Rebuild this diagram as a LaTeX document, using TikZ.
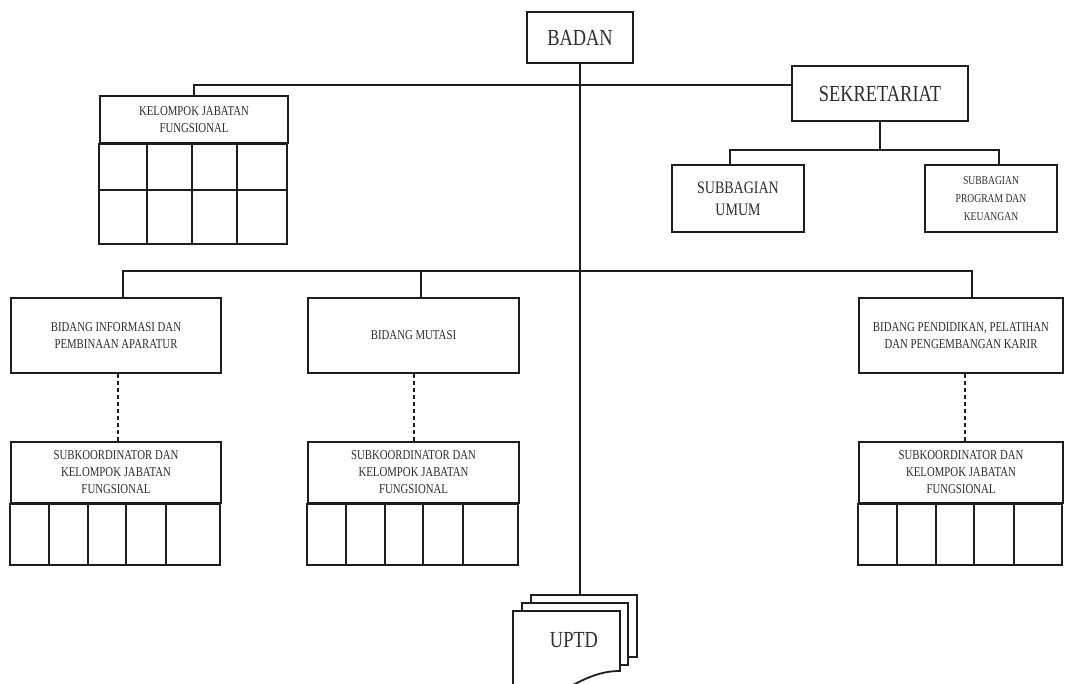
\documentclass[tikz,border=0pt]{standalone}
\usepackage{fontspec}
\setmainfont[FakeStretch=0.8]{Liberation Serif}
\definecolor{ink}{RGB}{30,30,30}
\definecolor{txt}{RGB}{45,45,50}
\newcommand\subgrid[2]{%
  \draw[frame] (#1.south west) rectangle ++(#2,61);
  \foreach \c in {39,77.5,116,156} \draw[frame] ([xshift=\c pt]#1.south west) -- ++(0,61);
}
\begin{document}
\begin{tikzpicture}[x=1pt,y=-1pt,
  frame/.style={draw=ink,line width=1.8pt},
  box/.style={frame,fill=white,inner sep=0pt,align=center,text=txt},
  big/.style={font=\fontsize{23}{26}\selectfont},
  mid/.style={font=\fontsize{17.5}{22}\selectfont},
  small/.style={font=\fontsize{13.5}{17}\selectfont},
  tiny/.style={font=\fontsize{12}{18}\selectfont},
  dashline/.style={draw=ink,line width=1.5pt,dash pattern=on 4pt off 3pt}]
\useasboundingbox[fill=white] (0,0) rectangle (1065,683);
\clip (0,0) rectangle (1065,683);

% top
\node[box,big,minimum width=106pt,minimum height=51pt] (badan) at (580,37.5) {BADAN};
\node[box,big,minimum width=176pt,minimum height=55pt] (sek) at (880,93.5) {SEKRETARIAT};
\node[box,mid,minimum width=132pt,minimum height=67pt] (umum) at (738,198.5) {SUBBAGIAN\\UMUM};
\node[box,tiny,minimum width=132pt,minimum height=67pt] (prog) at (991,198.5) {SUBBAGIAN\\PROGRAM DAN\\KEUANGAN};

% kelompok jabatan fungsional
\node[box,small,minimum width=188pt,minimum height=47pt] (kjf) at (194,119.5) {KELOMPOK JABATAN\\FUNGSIONAL};
\draw[frame] (kjf.south west) rectangle ++(188,100);
\draw[frame] ([yshift=-46pt]kjf.south west) -- ++(188,0);
\foreach \c in {48,93,138} \draw[frame] ([xshift=\c pt]kjf.south west) -- ++(0,100);

% connectors top
\draw[frame] (kjf.north) |- ([yshift=8.5pt]sek.west);
\draw[frame] (sek.south) -- ++(0,28) coordinate (sj);
\draw[frame] ([xshift=-8pt]umum.north) |- (sj) -| ([xshift=8pt]prog.north);

% bidang
\node[box,small,minimum width=210pt,minimum height=75pt] (inf) at (116,335.5) {BIDANG INFORMASI DAN\\PEMBINAAN APARATUR};
\node[box,small,minimum width=211pt,minimum height=75pt] (mut) at (413.5,335.5) {BIDANG MUTASI};
\node[box,small,minimum width=204pt,minimum height=75pt] (pend) at (961,335.5) {BIDANG PENDIDIKAN, PELATIHAN\\DAN PENGEMBANGAN KARIR};
\draw[frame] ([xshift=7pt]inf.north) -- ++(0,-26) -| ([xshift=11pt]pend.north);
\draw[frame] ([xshift=7.5pt]mut.north) -- ++(0,-26);

% subkoordinator
\node[box,small,minimum width=210pt,minimum height=61pt] (subA) at (116,472.5) {SUBKOORDINATOR DAN\\KELOMPOK JABATAN\\FUNGSIONAL};
\node[box,small,minimum width=211pt,minimum height=61pt] (subB) at (413.5,472.5) {SUBKOORDINATOR DAN\\KELOMPOK JABATAN\\FUNGSIONAL};
\node[box,small,minimum width=204pt,minimum height=61pt] (subC) at (961,472.5) {SUBKOORDINATOR DAN\\KELOMPOK JABATAN\\FUNGSIONAL};
\subgrid{subA}{210}
\subgrid{subB}{211}
\subgrid{subC}{204}
\draw[dashline] ([xshift=2pt]inf.south) -- ([xshift=2pt]subA.north);
\draw[dashline] ([xshift=0.5pt]mut.south) -- ([xshift=0.5pt]subB.north);
\draw[dashline] ([xshift=4pt]pend.south) -- ([xshift=4pt]subC.north);

% UPTD
\node[box,minimum width=106pt,minimum height=62pt] (uback) at (584,626) {};
\node[box,minimum width=106pt,minimum height=62pt] (umid) at (575,634) {};
\draw[frame,fill=white] (513,611) -- (620,611) -- (620,671) .. controls (600,671) and (585,678) .. (560,692) -- (513,692) -- cycle;
\node[big,text=txt] (uptd) at (574,640) {UPTD};
\draw[frame] (badan.south) -- (badan.south |- uback.north);
\end{tikzpicture}
\end{document}
